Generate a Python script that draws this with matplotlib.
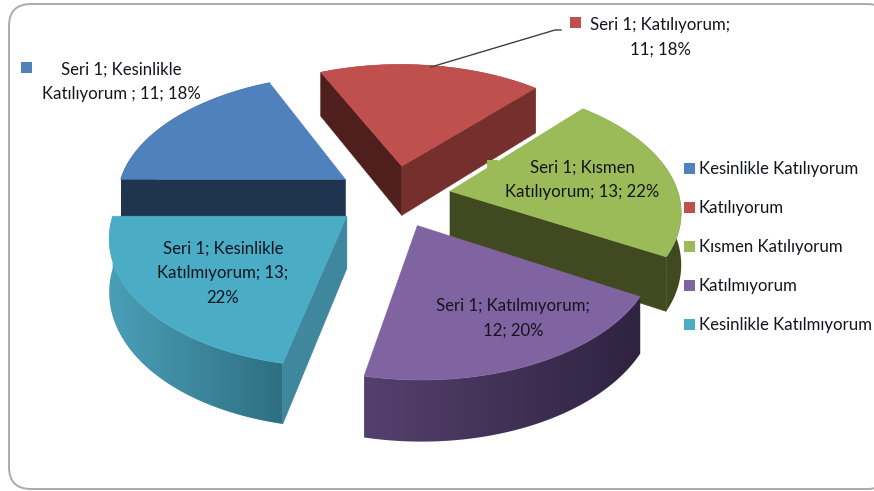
import numpy as np
import matplotlib
matplotlib.use("Agg")
import matplotlib.pyplot as plt
from matplotlib.colors import LinearSegmentedColormap
from matplotlib.patches import FancyBboxPatch, Polygon, Rectangle

plt.rcParams['font.family'] = ['Lato', 'DejaVu Sans']

categories = ['Kesinlikle Katılıyorum', 'Katılıyorum', 'Kısmen Katılıyorum',
              'Katılmıyorum', 'Kesinlikle Katılmıyorum']
values = [11, 11, 13, 12, 13]
labels = ['Seri 1; Kesinlikle\nKatılıyorum ; 11; 18%',
          'Seri 1; Katılıyorum;\n11; 18%',
          'Seri 1; Kısmen\nKatılıyorum; 13; 22%',
          'Seri 1; Katılmıyorum;\n12; 20%',
          'Seri 1; Kesinlikle\nKatılmıyorum; 13;\n22%']

top_colors = ['#4f81bd', '#c0504d', '#9bbb59', '#8064a2', '#4bacc6']
cut_colors = ['#1f344f', '#752f2d', '#40491f', '#2f2340', '#3e879d']
start_cut_colors = ['#1f344f', '#4f1f1e', '#40491f', '#54406e', '#3e879d']
wall_colors = [('#1f344f', '#1f344f'), ('#752f2d', '#752f2d'),
               ('#40491f', '#40491f'), ('#54406e', '#2f2340'),
               ('#4a9fb7', '#2f6f82')]
label_pos = [(121, 82), (660, 37), (582, 180), (513, 318), (223, 273)]
key_pos = [(26, 67), (575, 22), (492, 165)]

# pie geometry, in pixels of the 874x491 picture
cx, cy = 393, 196
radius = 229
squash = 0.54
persp = 0.14
explode = 58
depth = 51
start_angle = 270

text_color = '#14141e'
font_size = 12.1


def project(x, y, drop=0.0):
    s = 1 / (1 - persp * y / radius)
    return cx + x * s, cy + squash * y * s + drop * s


def wedge_outline(a0, a1, offset, drop=0.0):
    mid = np.radians((a0 + a1) / 2)
    ox, oy = offset * np.sin(mid), -offset * np.cos(mid)
    t = np.radians(np.linspace(a0, a1, 80))
    xs, ys = project(ox + radius * np.sin(t), oy - radius * np.cos(t), drop)
    ax_, ay_ = project(ox, oy, drop)
    return (ax_, ay_), np.column_stack([xs, ys])


def shoelace(p):
    x, y = p[:, 0], p[:, 1]
    return np.sum(x * np.roll(y, -1) - np.roll(x, -1) * y)


fig = plt.figure(figsize=(8.74, 4.91), dpi=100)
ax = fig.add_axes([0, 0, 1, 1])

frame = FancyBboxPatch((9, 4), 880, 485, boxstyle='round,pad=0,rounding_size=22',
                       fc='white', ec='#ababab', lw=1.4, zorder=1)
ax.add_patch(frame)

angles = start_angle + np.concatenate([[0], np.cumsum(values)]) / sum(values) * 360

z = 2
for i in range(len(values)):
    a0, a1 = angles[i], angles[i + 1]
    apex, rim = wedge_outline(a0, a1, explode)
    apex_low, rim_low = wedge_outline(a0, a1, explode, depth)

    # outer wall with a horizontal gradient
    wall = Polygon(np.vstack([rim, rim_low[::-1]]), closed=True, fc='none', ec='none',
                   transform=ax.transData)
    ax.add_patch(wall)
    cmap = LinearSegmentedColormap.from_list('w', wall_colors[i])
    im = ax.imshow(np.linspace(0, 1, 256).reshape(1, -1), cmap=cmap, aspect='auto',
                   extent=(rim[:, 0].min(), rim[:, 0].max(), rim_low[:, 1].max(), rim[:, 1].min()),
                   zorder=z)
    im.set_clip_path(wall)
    z += 1

    # flat faces on the two cuts, only where they look at the viewer
    start_face = np.array([apex, rim[0], rim_low[0], apex_low])
    end_face = np.array([apex, rim[-1], rim_low[-1], apex_low])
    if shoelace(start_face) < 0:
        ax.add_patch(Polygon(start_face, fc=start_cut_colors[i], ec=start_cut_colors[i], lw=0.4, zorder=z))
        z += 1
    if shoelace(end_face) > 0:
        ax.add_patch(Polygon(end_face, fc=cut_colors[i], ec=cut_colors[i], lw=0.4, zorder=z))
        z += 1

    ax.add_patch(Polygon(np.vstack([[apex], rim]), fc=top_colors[i], ec=top_colors[i], lw=0.4, zorder=z))
    z += 1

# leader line of the second label
ax.plot([431, 555, 561], [67, 30, 30], color='#404040', lw=1, zorder=z)
z += 1

for i, (kx, ky) in enumerate(key_pos):
    ax.add_patch(Rectangle((kx - 5.5, ky - 5.5), 11, 11, fc=top_colors[i], ec='none', zorder=z))

for lab, (lx, ly) in zip(labels, label_pos):
    ax.text(lx, ly, lab, ha='center', va='center', multialignment='center', color=text_color,
            fontsize=font_size, linespacing=1.67, zorder=z + 1)

# legend on the right
for i, cat in enumerate(categories):
    ly = 168 + 39 * i
    ax.add_patch(Rectangle((684, ly - 5.5), 11, 11, fc=top_colors[i], ec='none', zorder=z))
    ax.text(699, ly + 1, cat, ha='left', va='center', color=text_color, fontsize=font_size, zorder=z + 1)

ax.set_xlim(0, 874)
ax.set_ylim(491, 0)
ax.axis('off')

fig.savefig('out.png', dpi=100)
